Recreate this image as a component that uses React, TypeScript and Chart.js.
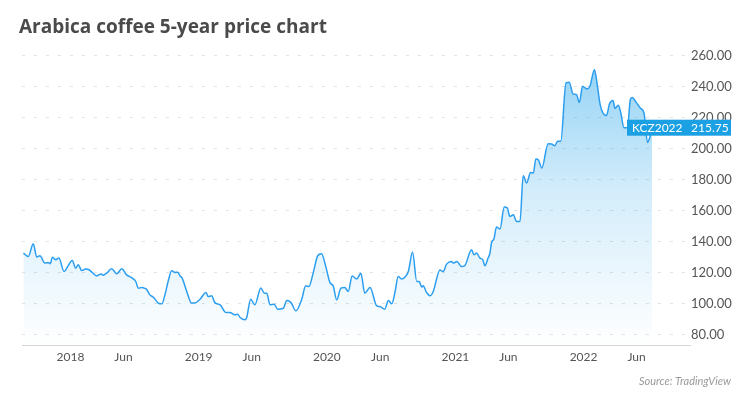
import React, { useEffect, useRef } from "react";
import { Chart, registerables } from "chart.js";

Chart.register(...registerables);

const TITLE = "Arabica coffee 5-year price chart";
const SOURCE = "Source: TradingView";
const SYMBOL = "KCZ2022";
const LAST_PRICE_LABEL = "215.75";

const yTicks = [80, 100, 120, 140, 160, 180, 200, 220, 240, 260];
const xTickDates = [
  "2018-01-01", "2018-06-01", "2019-01-01", "2019-06-01", "2020-01-01",
  "2020-06-01", "2021-01-01", "2021-06-01", "2022-01-01", "2022-06-01",
];
const xTickLabels = ["2018", "Jun", "2019", "Jun", "2020", "Jun", "2021", "Jun", "2022", "Jun"];

const dates = [
  "2017-08-20", "2017-09-03", "2017-09-17", "2017-09-27", "2017-10-06", "2017-10-20", "2017-10-30",
  "2017-11-04", "2017-11-11", "2017-11-20", "2017-11-29", "2017-12-14", "2017-12-24",
  "2018-01-06", "2018-01-16", "2018-01-23", "2018-02-02", "2018-02-13", "2018-02-23", "2018-03-04",
  "2018-03-17", "2018-03-29", "2018-04-04", "2018-04-14", "2018-04-28", "2018-05-13", "2018-05-27",
  "2018-06-10", "2018-06-26", "2018-07-06", "2018-07-13", "2018-07-23", "2018-08-01", "2018-08-06",
  "2018-08-15", "2018-08-25", "2018-09-08", "2018-09-18", "2018-09-27", "2018-10-06", "2018-10-16",
  "2018-10-26", "2018-11-02", "2018-11-09", "2018-11-15", "2018-11-28", "2018-12-12", "2018-12-21",
  "2019-01-05", "2019-01-22", "2019-01-28", "2019-02-07", "2019-02-16", "2019-03-03", "2019-03-20",
  "2019-03-31", "2019-04-14", "2019-04-22", "2019-04-29", "2019-05-13", "2019-05-18", "2019-05-29",
  "2019-06-10", "2019-06-27", "2019-07-07", "2019-07-14", "2019-07-23", "2019-08-04", "2019-08-14",
  "2019-08-30", "2019-09-09", "2019-09-21", "2019-10-05", "2019-10-21", "2019-11-02", "2019-11-11",
  "2019-11-23", "2019-12-06", "2019-12-17", "2019-12-29",
  "2020-01-10", "2020-01-19", "2020-01-29", "2020-02-10", "2020-02-21", "2020-03-02", "2020-03-13",
  "2020-03-26", "2020-04-07", "2020-04-18", "2020-05-03", "2020-05-22", "2020-05-31", "2020-06-14",
  "2020-06-24", "2020-07-04", "2020-07-13", "2020-07-22", "2020-08-01", "2020-08-10", "2020-08-20",
  "2020-09-01", "2020-09-13", "2020-09-20", "2020-09-27", "2020-10-01", "2020-10-11", "2020-10-21",
  "2020-10-30", "2020-11-18", "2020-11-27", "2020-12-07", "2020-12-21", "2020-12-26",
  "2021-01-05", "2021-01-19", "2021-01-28", "2021-02-16", "2021-02-23", "2021-03-02", "2021-03-12",
  "2021-03-20", "2021-03-26", "2021-04-04", "2021-04-09", "2021-04-14", "2021-04-21", "2021-04-28",
  "2021-05-08", "2021-05-20", "2021-05-29", "2021-06-05", "2021-06-15", "2021-06-24", "2021-07-04",
  "2021-07-13", "2021-07-23", "2021-08-03", "2021-08-11", "2021-08-18", "2021-08-25", "2021-09-04",
  "2021-09-22", "2021-10-02", "2021-10-11", "2021-10-19", "2021-10-28", "2021-11-12", "2021-11-21",
  "2021-12-02", "2021-12-12", "2021-12-20", "2021-12-29",
  "2022-01-10", "2022-01-19", "2022-02-01", "2022-02-08", "2022-02-17", "2022-02-25", "2022-03-07",
  "2022-03-16", "2022-03-26", "2022-03-31", "2022-04-10", "2022-04-17", "2022-04-26", "2022-05-06",
  "2022-05-14", "2022-05-19", "2022-06-01", "2022-06-12", "2022-06-22", "2022-07-02", "2022-07-07",
  "2022-07-15",
];

const prices = [
  132.7, 130.5, 138.7, 130.1, 131.0, 126.3, 126.7,
  125.8, 130.0, 128.4, 129.5, 120.8, 124.0,
  128.0, 123.0, 125.2, 121.5, 122.4, 122.0, 120.2,
  118.0, 119.2, 118.5, 119.8, 122.6, 119.4, 122.6,
  118.7, 116.6, 114.4, 110.1, 110.5, 110.0, 109.3,
  105.8, 104.3, 100.5, 100.0, 105.8, 114.4, 121.3,
  120.2, 120.4, 118.0, 116.6, 108.0, 100.5, 100.5,
  103.0, 107.3, 104.7, 105.2, 100.8, 99.4, 94.4,
  94.4, 92.9, 93.3, 91.2, 89.7, 91.4, 103.0,
  99.4, 110.3, 106.9, 106.9, 99.4, 99.7, 96.6,
  97.2, 102.1, 100.8, 95.5, 102.6, 111.6, 111.2,
  119.8, 131.0, 132.3, 124.0,
  113.7, 111.6, 102.6, 110.1, 110.5, 108.0, 118.0,
  116.0, 119.8, 106.9, 110.5, 98.7, 98.3, 96.6,
  102.1, 100.0, 107.5, 117.6, 116.0, 117.2, 120.8,
  133.4, 114.4, 114.4, 110.8, 111.6, 107.3, 105.2,
  108.0, 121.9, 120.8, 125.6, 127.3, 126.3,
  127.3, 124.0, 124.7, 134.8, 131.6, 132.7, 129.5,
  128.4, 124.5, 129.5, 132.3, 139.5, 142.0, 149.5,
  148.2, 162.4, 161.7, 156.3, 157.4, 153.1, 153.1,
  182.6, 177.9, 184.7, 184.3, 193.4, 192.9, 187.5,
  203.2, 203.0, 201.9, 204.7, 204.7, 242.4, 242.8,
  235.3, 234.8, 229.7, 240.2,
  238.5, 240.2, 250.8, 242.5, 228.5, 223.0, 221.3,
  229.0, 231.0, 226.0, 228.0, 223.0, 213.5, 213.5,
  231.5, 233.0, 229.5, 226.0, 223.0, 204.0, 206.0,
  213.5,
];

const toTs = (s: string) => Date.parse(s + "T00:00:00Z");
const X_MIN = "2017-08-16";
const X_MAX = "2022-10-31";

const FONT = "Lato, 'Open Sans', sans-serif";
const TITLE_FONT = "'Open Sans', Lato, sans-serif";

const overlayPlugin = {
  id: "overlay",
  afterDraw(chart: any) {
    const ctx = chart.ctx;
    const area = chart.chartArea;
    const yScale = chart.scales.y;
    ctx.save();
    // title
    ctx.fillStyle = "#4a4a4a";
    ctx.font = `bold 19px ${TITLE_FONT}`;
    ctx.textAlign = "left";
    ctx.textBaseline = "alphabetic";
    ctx.fillText(TITLE, 19, 33);
    // source
    ctx.fillStyle = "#9a9a9a";
    ctx.font = `italic 11px ${FONT}`;
    ctx.textAlign = "right";
    ctx.fillText(SOURCE, 731, 385);
    // last price box
    const last = prices[prices.length - 1];
    const yc = yScale.getPixelForValue(last);
    ctx.fillStyle = "#1ba0e4";
    ctx.fillRect(627, yc - 8, 104, 16);
    ctx.fillStyle = "#ffffff";
    ctx.font = `12px ${FONT}`;
    ctx.textAlign = "left";
    ctx.textBaseline = "middle";
    ctx.fillText(SYMBOL, 632, yc + 0.5);
    ctx.fillText(LAST_PRICE_LABEL, area.right + 1, yc + 0.5);
    ctx.restore();
  },
};

export default function App() {
  const canvasRef = useRef<HTMLCanvasElement | null>(null);

  useEffect(() => {
    const canvas = canvasRef.current;
    if (!canvas) return;
    const data = dates.map((d, i) => ({ x: toTs(d), y: prices[i] }));
    const chart = new Chart(canvas, {
      type: "line",
      data: {
        datasets: [
          {
            data,
            borderColor: "#2c9ef0",
            borderWidth: 1.5,
            pointRadius: 0,
            cubicInterpolationMode: "monotone",
            fill: "start",
            backgroundColor: (c: any) => {
              const { chart } = c;
              const a = chart.chartArea;
              if (!a) return "rgba(40,160,235,0.2)";
              const g = chart.ctx.createLinearGradient(0, a.top, 0, a.bottom);
              g.addColorStop(0, "rgba(40,165,235,0.55)");
              g.addColorStop(0.5, "rgba(40,165,235,0.2)");
              g.addColorStop(1, "rgba(40,165,235,0.0)");
              return g;
            },
          },
        ],
      },
      options: {
        animation: false,
        responsive: false,
        maintainAspectRatio: false,
        layout: { padding: { top: 40, left: 22, right: 0, bottom: 0 } },
        plugins: {
          legend: { display: false },
          tooltip: { enabled: false },
        },
        scales: {
          x: {
            type: "linear",
            min: toTs(X_MIN),
            max: toTs(X_MAX),
            afterBuildTicks: (scale: any) => {
              scale.ticks = xTickDates.map((d) => ({ value: toTs(d) }));
            },
            afterFit: (scale: any) => {
              scale.height = 53;
            },
            grid: { display: false, drawTicks: false },
            border: { display: true, color: "#d6d6d6", width: 1 },
            ticks: {
              autoSkip: false,
              maxRotation: 0,
              padding: 5,
              color: "#555555",
              font: { family: FONT, size: 12 },
              callback: (v: any) => {
                const i = xTickDates.findIndex((d) => toTs(d) === v);
                return i >= 0 ? xTickLabels[i] : "";
              },
            },
          },
          y: {
            position: "right",
            min: 73.5,
            max: 270,
            afterBuildTicks: (scale: any) => {
              scale.ticks = yTicks.map((v) => ({ value: v }));
            },
            afterFit: (scale: any) => {
              scale.width = 60;
            },
            grid: { color: "#e2e2e2", drawTicks: false, lineWidth: 1 },
            border: { display: false, dash: [3, 9] },
            ticks: {
              padding: 1,
              color: "#555555",
              font: { family: FONT, size: 13 },
              callback: (v: any) => Number(v).toFixed(2),
            },
          },
        },
      },
      plugins: [overlayPlugin],
    });
    return () => chart.destroy();
  }, []);

  return (
    <div style={{ position: "fixed", left: 0, top: 0, width: 750, height: 398, background: "#ffffff" }}>
      <canvas ref={canvasRef} width={750} height={398} style={{ width: 750, height: 398, display: "block" }} />
    </div>
  );
}
